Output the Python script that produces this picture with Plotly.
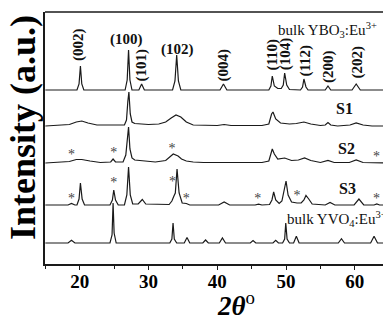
import plotly.graph_objects as go

# ---------------- data (2theta in degrees, intensity in a.u. above each baseline) ----------------
ybo3_tt = [15, 19.6, 19.9, 20.1, 20.3, 20.6, 26.6, 26.9, 27.1, 27.3, 27.6, 28.6, 29.0, 29.4,
           33.5, 33.85, 34.1, 34.35, 34.7, 40.4, 40.9, 41.4, 47.5, 47.8, 48.0, 48.3, 48.8, 49.3,
           49.6, 49.8, 50.1, 50.5, 52.1, 52.4, 52.6, 52.9, 53.2, 55.7, 56.1, 56.5, 59.6, 60.2,
           60.8, 65]
ybo3_int = [0, 0, 6, 24, 6, 0, 0, 10, 40, 10, 0, 0, 6, 0,
            0, 9, 35, 9, 0, 0, 6, 0, 0, 4, 14, 4, 1.5, 1.5,
            5, 17, 5, 0.5, 0, 3, 11, 3, 0, 0, 4, 0, 0, 6,
            0, 0]

s1_tt = [15, 17, 18.5, 19.5, 20.3, 21.2, 22.5, 26.5, 26.8, 27.0, 27.15, 27.35, 27.6, 28, 29, 30,
         31.5, 32.5, 33.3, 34.0, 34.7, 35.5, 36.5, 40, 41, 42, 46.5, 47.5, 47.9, 48.1, 48.5, 49.2,
         50.5, 51.5, 52.6, 53.6, 55, 55.7, 56.1, 56.5, 57.5, 59.3, 60.2, 61.2, 62.5, 65]
s1_int = [0, 0.5, 1.5, 4, 5, 3, 1, 1, 6, 25, 34, 12, 4, 2.5, 2, 1.5,
          2, 4, 8, 11, 9, 4, 1, 0.5, 1.5, 0.5, 0.5, 2, 12, 14, 7, 3,
          2, 2.5, 4, 2, 0.5, 1, 3.5, 1, 0, 1, 3, 1, 0, 0]

s2_tt = [15, 17, 18.5, 19.5, 20.3, 21.5, 23, 24.5, 24.85, 25.2, 26.3, 26.7, 26.95, 27.1, 27.3,
         27.6, 28.0, 28.7, 29.3, 31, 32.5, 33.1, 33.6, 34.3, 34.8, 35.5, 36.5, 38, 41, 46.5, 47.5,
         47.8, 48.0, 48.3, 48.8, 49.8, 50.8, 51.8, 52.7, 53.6, 55, 56.1, 57, 59.2, 60.2, 61.2, 63, 65]
s2_int = [0, 0.5, 1.5, 3.5, 3.5, 2, 0.5, 1, 4, 1, 1, 8, 30, 36, 14,
          5, 3, 2.5, 1.5, 1, 2.5, 6, 9, 7, 4, 2, 1, 0.5, 0.5, 0.5, 2,
          9, 14, 9, 4, 5, 2.5, 3, 5, 2.5, 0.5, 2.5, 0.5, 0.5, 3, 0.5, 0, 0]

s3_tt = [15, 18.3, 18.8, 19.3, 19.6, 19.9, 20.1, 20.35, 20.7, 24.4, 24.75, 24.95, 25.2, 25.6,
         26.5, 26.85, 27.1, 27.35, 27.7, 28.5, 29.1, 29.6, 33.0, 33.4, 33.7, 33.9, 34.15, 34.45,
         34.9, 35.5, 36.0, 40.2, 41.0, 41.8, 45.5, 46.0, 46.5, 47.6, 47.95, 48.2, 48.5, 49.0,
         49.4, 49.75, 50.0, 50.3, 50.8, 51.6, 52.2, 52.6, 52.9, 53.3, 53.8, 55.7, 56.4, 57.1,
         59.9, 60.6, 61.3, 62.8, 63.2, 63.6, 65]
s3_int = [0, 0, 1.5, 0, 0, 6, 22, 6, 0, 0, 5, 15, 5, 0,
          0, 10, 38, 10, 1, 1, 5.5, 1, 0.5, 4, 9, 12, 36, 12,
          2, 1.5, 0, 0, 3, 0, 0, 0.8, 0, 0.5, 5, 13, 5, 1.5,
          4, 14, 24, 10, 3, 2, 2, 5, 9.5, 6, 1, 0, 2.5, 0,
          0, 6, 0, 0, 1, 0, 0]

yvo4_tt = [15, 18.3, 18.8, 19.3, 24.4, 24.7, 24.85, 25.0, 25.3, 33.1, 33.4, 33.57, 33.75, 34.1,
           35.2, 35.6, 36.0, 37.9, 38.3, 38.7, 40.3, 40.75, 41.2, 44.8, 45.2, 45.6, 48.1, 48.5,
           48.9, 49.5, 49.8, 49.96, 50.15, 50.5, 51.1, 51.5, 51.9, 57.6, 58.06, 58.5, 62.3, 62.8,
           63.3, 65]
yvo4_int = [0, 0, 2.7, 0, 0, 8, 40, 10, 0, 0, 4, 20, 4, 0,
            0, 5.5, 0, 0, 3, 0, 0, 5, 0, 0, 2.5, 0, 0, 2.7,
            0, 0, 4, 20, 4, 0, 0, 6.7, 0, 0, 4.3, 0, 0, 6.7,
            0, 0]

series_names = ["bulk YBO3:Eu", "S1", "S2", "S3", "bulk YVO4:Eu"]
series_tt = [ybo3_tt, s1_tt, s2_tt, s3_tt, yvo4_tt]
series_int = [ybo3_int, s1_int, s2_int, s3_int, yvo4_int]
offsets = [174, 138, 101, 59, 21]          # vertical stacking offsets (a.u.)

# Miller indices of bulk YBO3 (label, 2theta, height of label centre in a.u., rotated?)
hkl_labels = ["(002)", "(100)", "(101)", "(102)", "(004)", "(110)", "(104)", "(112)", "(200)", "(202)"]
hkl_tt     = [19.75, 26.75, 28.97, 34.15, 40.9, 47.9, 49.9, 52.7, 56.1, 60.25]
hkl_y      = [219, 225, 199, 215, 199, 209, 210, 203, 198, 202]
hkl_rot    = [True, False, True, False, True, True, True, True, True, True]

# impurity markers (*) : 2theta, height
star_s2_tt = [18.8, 24.95, 33.4, 63.15]
star_s2_y  = [109, 111, 115, 107]
star_s3_tt = [18.8, 24.95, 33.5, 35.5, 45.9, 51.6, 63.15]
star_s3_y  = [65, 81, 82, 65, 65, 68, 65]

# sample labels
sample_labels = ["bulk YBO<sub>3</sub>:Eu<sup>3+</sup>", "<b>S1</b>", "<b>S2</b>", "<b>S3</b>",
                 "bulk YVO<sub>4</sub>:Eu<sup>3+</sup>"]
sample_tt = [48.5, 57.0, 57.3, 57.4, 49.8]
sample_y  = [234, 156, 116, 76, 45]
sample_size = [15, 16, 16, 16, 15]

# ---------------- figure ----------------
FONT = "Liberation Serif"
LINE = "#1a1a1a"

fig = go.Figure()
for name, tt, inten, off in zip(series_names, series_tt, series_int, offsets):
    fig.add_trace(go.Scatter(x=tt, y=[v + off for v in inten], mode="lines", name=name,
                             line=dict(color=LINE, width=1.2), showlegend=False,
                             hoverinfo="skip"))

fig.add_trace(go.Scatter(x=star_s2_tt + star_s3_tt, y=star_s2_y + star_s3_y, mode="text",
                         text=["*"] * (len(star_s2_tt) + len(star_s3_tt)),
                         textfont=dict(family=FONT, size=14, color="#444"),
                         showlegend=False, hoverinfo="skip", cliponaxis=False))

ann = []
for lab, tt, yy, rot in zip(hkl_labels, hkl_tt, hkl_y, hkl_rot):
    ann.append(dict(x=tt, y=yy, xref="x", yref="y", text="<b>%s</b>" % lab, showarrow=False,
                    textangle=-90 if rot else 0, xanchor="center", yanchor="middle",
                    font=dict(family=FONT, size=15, color="#111")))
for lab, tt, yy, sz in zip(sample_labels, sample_tt, sample_y, sample_size):
    ann.append(dict(x=tt, y=yy, xref="x", yref="y", text=lab, showarrow=False,
                    xanchor="left", yanchor="middle",
                    font=dict(family=FONT, size=sz, color="#111")))

# axis titles
ann.append(dict(x=-0.065, y=0.54, xref="paper", yref="paper", text="<b>Intensity (a.u.)</b>",
                showarrow=False, textangle=-90, xanchor="center", yanchor="middle",
                font=dict(family=FONT, size=36, color="#000")))
ann.append(dict(x=0.565, y=-0.16, xref="paper", yref="paper",
                text="<b><i>2θ</i></b><sup>o</sup>", showarrow=False,
                xanchor="center", yanchor="middle",
                font=dict(family=FONT, size=27, color="#000")))

fig.update_layout(
    width=383, height=320,
    margin=dict(l=45, r=0, t=12, b=56),
    plot_bgcolor="white", paper_bgcolor="white",
    annotations=ann,
    shapes=[dict(type="line", xref="paper", yref="paper", x0=0, x1=1, y0=1, y1=1,
                 line=dict(color=LINE, width=1.5))],
    xaxis=dict(range=[14.95, 64.1], showgrid=False, zeroline=False, showline=True,
               linecolor=LINE, linewidth=1.5, ticks="outside", ticklen=4, tickwidth=1,
               tickcolor=LINE, tickmode="linear", tick0=10, dtick=10,
               ticklabelstandoff=-5,
               tickfont=dict(family=FONT, size=19, color="#000", weight="bold"),
               minor=dict(ticks="outside", ticklen=3, dtick=5, tick0=5, tickcolor=LINE)),
    yaxis=dict(range=[0, 252], showgrid=False, zeroline=False, showline=True,
               linecolor=LINE, linewidth=1.5, showticklabels=False, ticks=""),
)

fig.write_html("out.html", config={"displayModeBar": False},
               post_script="document.body.style.margin='0px';document.body.style.padding='0px';")
